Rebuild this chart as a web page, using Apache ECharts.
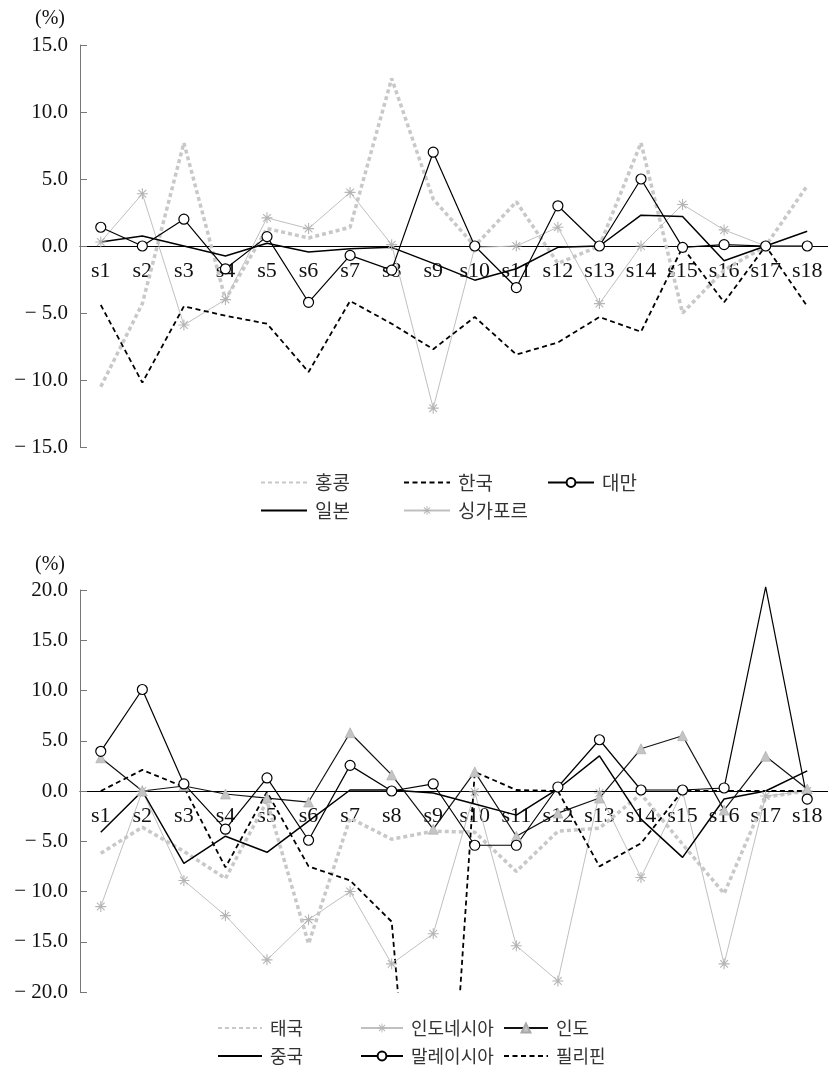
<!DOCTYPE html>
<html><head><meta charset="utf-8">
<script src="https://cdn.jsdelivr.net/npm/echarts@6/dist/echarts.min.js"></script>
<style>html,body{margin:0;padding:0;background:#fff}#c{width:828px;height:1074px}</style>
</head><body><div id="c"></div>
<script>
// ---------- data ----------
const categories = ['s1','s2','s3','s4','s5','s6','s7','s8','s9','s10','s11','s12','s13','s14','s15','s16','s17','s18'];
const unitLabel = '(%)';

// top chart
const topNames = ['홍콩','한국','대만','일본','싱가포르'];
const hongKong  = [-10.5,-4.3,7.7,-4.0,1.3,0.6,1.4,12.5,3.5,0.0,3.3,-1.3,0.0,7.7,-5.0,-1.8,0.0,4.5];
const korea     = [-4.4,-10.2,-4.5,-5.2,-5.8,-9.4,-4.1,-5.8,-7.7,-5.3,-8.1,-7.2,-5.3,-6.4,-0.1,-4.2,0.0,-4.5];
const taiwan    = [1.4,0.0,2.0,-1.7,0.7,-4.2,-0.7,-1.8,7.0,0.0,-3.1,3.0,0.0,5.0,-0.1,0.1,0.0,0.0];
const japan     = [0.3,0.75,0.0,-0.75,0.2,-0.45,-0.2,-0.1,-1.3,-2.55,-1.7,-0.1,0.0,2.3,2.2,-1.1,0.0,1.1];
const singapore = [0.3,3.9,-5.9,-4.0,2.1,1.3,4.0,0.1,-12.1,-0.1,0.0,1.4,-4.3,0.0,3.1,1.2,0.0,0.0];
const topAxis = {min:-15, max:15, interval:5};

// bottom chart
const bottomNames = ['태국','인도네시아','인도','중국','말레이시아','필리핀'];
const thailand    = [-6.2,-3.6,-6.0,-8.7,-1.0,-15.2,-2.7,-4.8,-4.0,-4.1,-8.0,-4.0,-3.7,-0.3,-5.3,-10.2,-0.6,0.0];
const indonesia   = [-11.5,0.0,-8.9,-12.4,-16.8,-12.8,-10.0,-17.2,-14.2,-0.1,-15.4,-18.9,-0.2,-8.6,0.0,-17.2,-0.5,0.0];
const india       = [3.3,0.0,0.5,-0.3,-0.7,-1.1,5.8,1.6,-3.8,1.9,-4.5,-2.2,-0.7,4.2,5.5,-1.9,3.45,0.2];
const china       = [-4.1,0.0,-7.2,-4.5,-6.1,-3.0,0.1,0.1,-0.2,-1.3,-2.4,0.2,3.5,-2.8,-6.6,-0.8,0.0,2.0];
const malaysia    = [3.95,10.1,0.7,-3.8,1.3,-4.9,2.55,0.0,0.7,-5.4,-5.4,0.4,5.1,0.1,0.1,0.3,20.3,-0.8];
const philippines = [0.0,2.1,0.4,-7.6,-0.1,-7.5,-8.9,-13.0,-60.0,1.9,0.1,0.0,-7.5,-5.2,0.0,0.0,0.0,0.0];
const bottomAxis = {min:-20, max:20, interval:5};
const malaysiaNoMarker = ['s17'];

// ---------- styling ----------
const SERIF = "'Liberation Serif','Times New Roman',serif";
const KR = "'Noto Sans CJK KR','Noto Sans',sans-serif";
const STAR = 'path://M-1,-10L1,-10L1,10L-1,10Z M-10,-1L10,-1L10,1L-10,1Z M-6.3,-7.7L7.7,6.3L6.3,7.7L-7.7,-6.3Z M7.7,-6.3L-6.3,7.7L-7.7,6.3L6.3,-7.7Z';
const NOFILL = 'rgba(0,0,0,0)';
function fmt(v){ return v < 0 ? '\u2212 ' + Math.abs(v).toFixed(1) : v.toFixed(1); }

const styles = {
  dotted: {symbol:'none', itemStyle:{color:NOFILL, borderWidth:0}, lineStyle:{color:'#c8c8c8', width:3.5, type:[4,3]}},
  dashed: {symbol:'none', itemStyle:{color:NOFILL, borderWidth:0}, lineStyle:{color:'#000', width:1.8, type:[5,3.5]}},
  circle: {symbol:'circle', symbolSize:10, itemStyle:{color:'#fff', borderColor:'#000', borderWidth:1.2}, lineStyle:{color:'#000', width:1.2}},
  solid:  {symbol:'none', itemStyle:{color:NOFILL, borderWidth:0}, lineStyle:{color:'#000', width:1.5}},
  star:   {symbol:STAR, symbolSize:11, itemStyle:{color:'#b5b5b5'}, lineStyle:{color:'#c0c0c0', width:1}},
  tri:    {symbol:'triangle', symbolSize:10, itemStyle:{color:'#c4c4c4', borderColor:'#a8a8a8', borderWidth:0.6}, lineStyle:{color:'#111', width:1.2}}
};

function mkSeries(name, data, st, axisIdx, extra){
  return Object.assign({
    type:'line', name, data, xAxisIndex:axisIdx, yAxisIndex:axisIdx,
    showAllSymbol:true, animation:false, emphasis:{disabled:true}, silent:true, clip:true
  }, JSON.parse(JSON.stringify(st)), extra||{});
}

const series = [
  mkSeries(topNames[0], hongKong, styles.dotted, 0),
  mkSeries(topNames[4], singapore, styles.star, 0),
  mkSeries(topNames[1], korea, styles.dashed, 0),
  mkSeries(topNames[3], japan, styles.solid, 0),
  mkSeries(topNames[2], taiwan, styles.circle, 0),
  mkSeries(bottomNames[0], thailand, styles.dotted, 1),
  mkSeries(bottomNames[1], indonesia, styles.star, 1),
  mkSeries(bottomNames[5], philippines, styles.dashed, 1),
  mkSeries(bottomNames[3], china, styles.solid, 1),
  mkSeries(bottomNames[2], india, styles.tri, 1),
  mkSeries(bottomNames[4], malaysia, styles.circle, 1, {
    clip:false,
    symbol: function(v, p){ return malaysiaNoMarker.indexOf(categories[p.dataIndex]) >= 0 ? 'none' : 'circle'; }
  })
];

const GRID_H = 402;
function xAx(i){
  return {type:'category', gridIndex:i, data:categories, boundaryGap:true,
    offset:-GRID_H/2,
    axisLine:{onZero:false, lineStyle:{color:'#000', width:1}},
    axisTick:{inside:true, length:6, lineStyle:{color:'#000'}},
    axisLabel:{fontFamily:SERIF, fontSize:22, color:'#111', margin:14, interval:0},
    splitLine:{show:false}};
}
function yAx(i, r){
  return {type:'value', gridIndex:i, min:r.min, max:r.max, interval:r.interval,
    axisLine:{show:true, onZero:false, lineStyle:{color:'#777', width:1}},
    axisTick:{show:true, inside:true, length:7, lineStyle:{color:'#777'}},
    splitLine:{show:false},
    axisLabel:{formatter:fmt, fontFamily:SERIF, fontSize:21, color:'#111', margin:12}};
}

function lg(name, left, top, extra, fs, iw){
  return Object.assign({data:[name], left, top, padding:0, itemGap:0, itemWidth:iw||46, itemHeight:11,
    selectedMode:false, textStyle:{fontFamily:KR, fontSize:fs||19, color:'#333', padding:[0,0,0,3]}}, extra||{});
}
const thin = {lineStyle:{width:2}};
const legends = [
  lg(topNames[0], 260, 473, thin), lg(topNames[1], 403, 473), lg(topNames[2], 547, 473),
  lg(topNames[3], 260, 501), lg(topNames[4], 403, 501),
  lg(bottomNames[0], 217, 1019, thin, 18, 44), lg(bottomNames[1], 360, 1019, null, 18, 42), lg(bottomNames[2], 503, 1019, null, 18, 44),
  lg(bottomNames[3], 217, 1047, null, 18, 44), lg(bottomNames[4], 360, 1047, null, 18, 42), lg(bottomNames[5], 503, 1047, null, 18, 44)
];

const chart = echarts.init(document.getElementById('c'), null, {renderer:'canvas'});
chart.setOption({
  animation:false,
  backgroundColor:'#fff',
  title:[
    {text:unitLabel, left:30, top:4, textStyle:{fontFamily:SERIF, fontSize:20, fontWeight:'normal', color:'#111'}},
    {text:unitLabel, left:30, top:550, textStyle:{fontFamily:SERIF, fontSize:20, fontWeight:'normal', color:'#111'}}
  ],
  grid:[{left:80, right:0, top:45, height:GRID_H}, {left:80, right:0, top:590, height:GRID_H}],
  xAxis:[xAx(0), xAx(1)],
  yAxis:[yAx(0, topAxis), yAx(1, bottomAxis)],
  legend:legends,
  series
});
</script></body></html>
